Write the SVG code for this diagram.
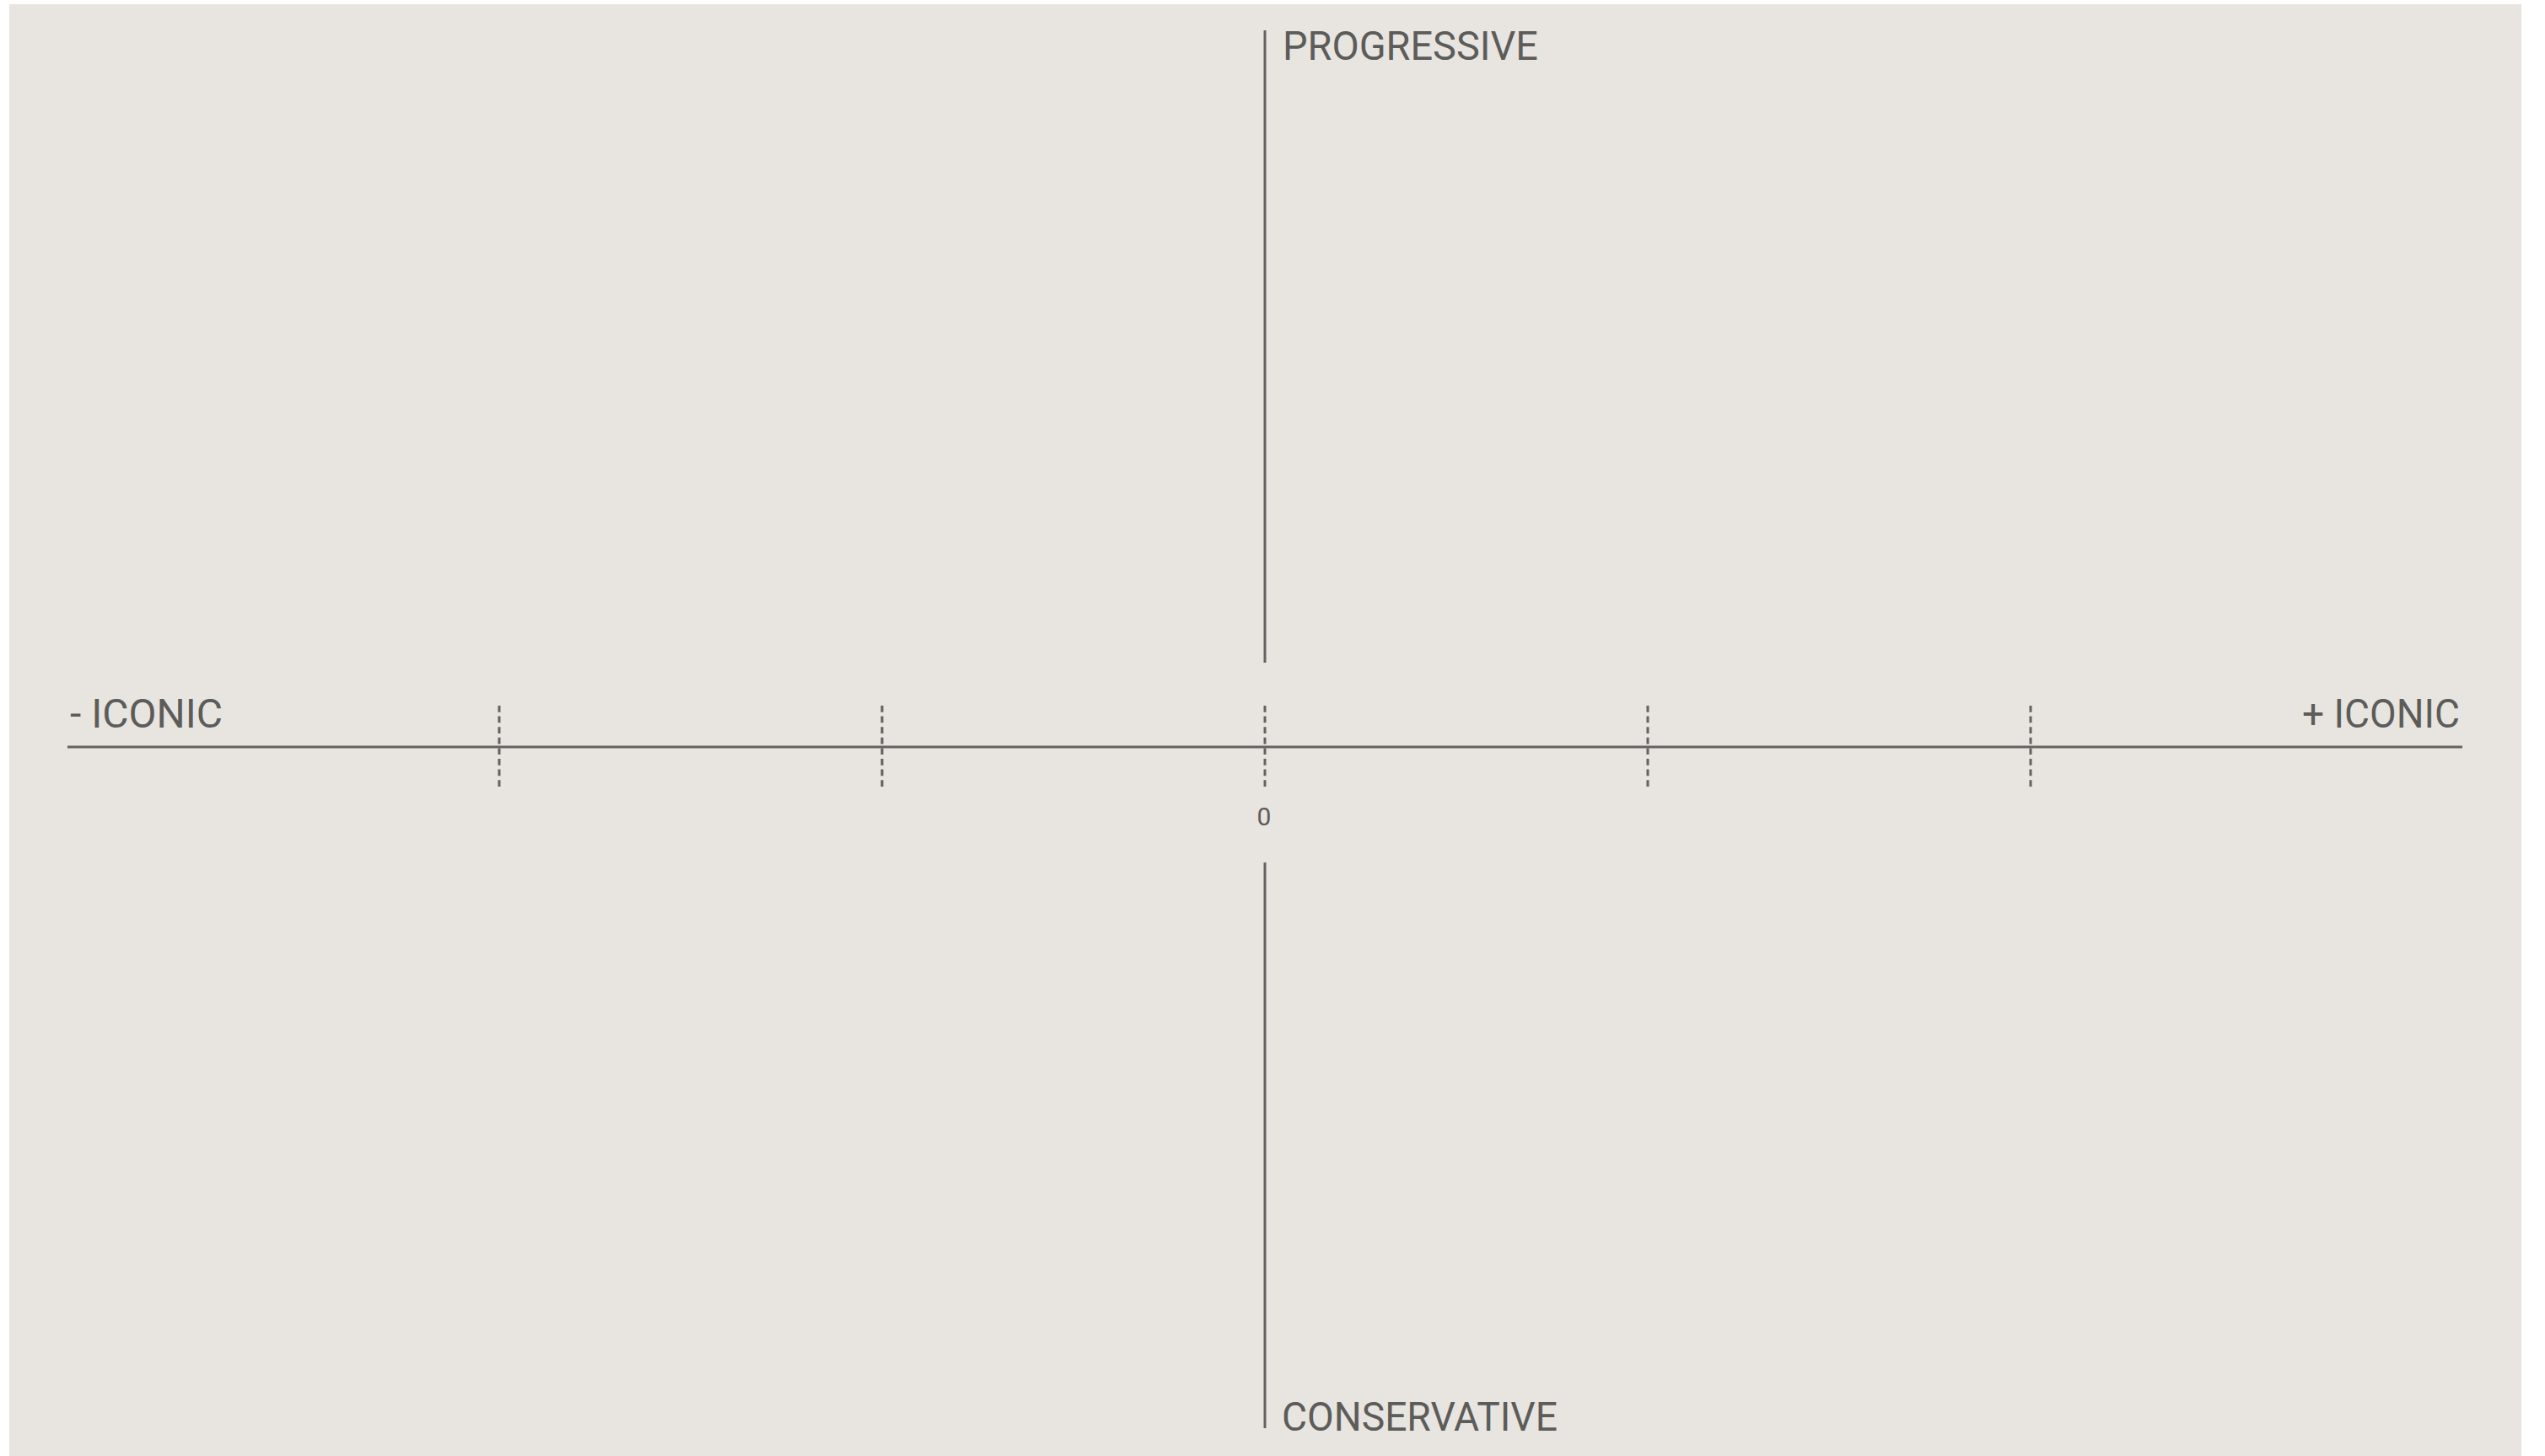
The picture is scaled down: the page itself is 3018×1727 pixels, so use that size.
<svg xmlns="http://www.w3.org/2000/svg" width="3018" height="1727" viewBox="0 0 3018 1727">
<style>
.lbl{font-family:Roboto,"DejaVu Sans",sans-serif;font-size:48px;fill:#5c5c5a}
.small{font-family:Roboto,"DejaVu Sans",sans-serif;font-size:30px;fill:#5c5c5a}
.axis{stroke:#636361;stroke-width:3;fill:none}
.tick{stroke:#636361;stroke-width:3;stroke-dasharray:7.7 4.9;fill:none}
</style>
<rect x="11" y="5" width="2979" height="1722" fill="#e8e5e0"/>
<g id="connectors">
<line class="axis" x1="80" y1="886" x2="2920" y2="886"/>
<line class="axis" x1="1500" y1="36" x2="1500" y2="786"/>
<line class="axis" x1="1500" y1="1023" x2="1500" y2="1694"/>
<line class="tick" x1="592" y1="837" x2="592" y2="934"/>
<line class="tick" x1="1046" y1="837" x2="1046" y2="934"/>
<line class="tick" x1="1500" y1="837" x2="1500" y2="934"/>
<line class="tick" x1="1954" y1="837" x2="1954" y2="934"/>
<line class="tick" x1="2408" y1="837" x2="2408" y2="934"/>
</g>
<g id="progressive"><text class="lbl" x="1521" y="71" textLength="303" lengthAdjust="spacingAndGlyphs">PROGRESSIVE</text></g>
<g id="conservative"><text class="lbl" x="1520" y="1697" textLength="327" lengthAdjust="spacingAndGlyphs">CONSERVATIVE</text></g>
<g id="minus-iconic"><text class="lbl" x="83" y="863" textLength="181" lengthAdjust="spacingAndGlyphs">- ICONIC</text></g>
<g id="plus-iconic"><text class="lbl" x="2730" y="863" textLength="187" lengthAdjust="spacingAndGlyphs">+ ICONIC</text></g>
<g id="zero"><text class="small" x="1499" y="979" text-anchor="middle">0</text></g>
</svg>
